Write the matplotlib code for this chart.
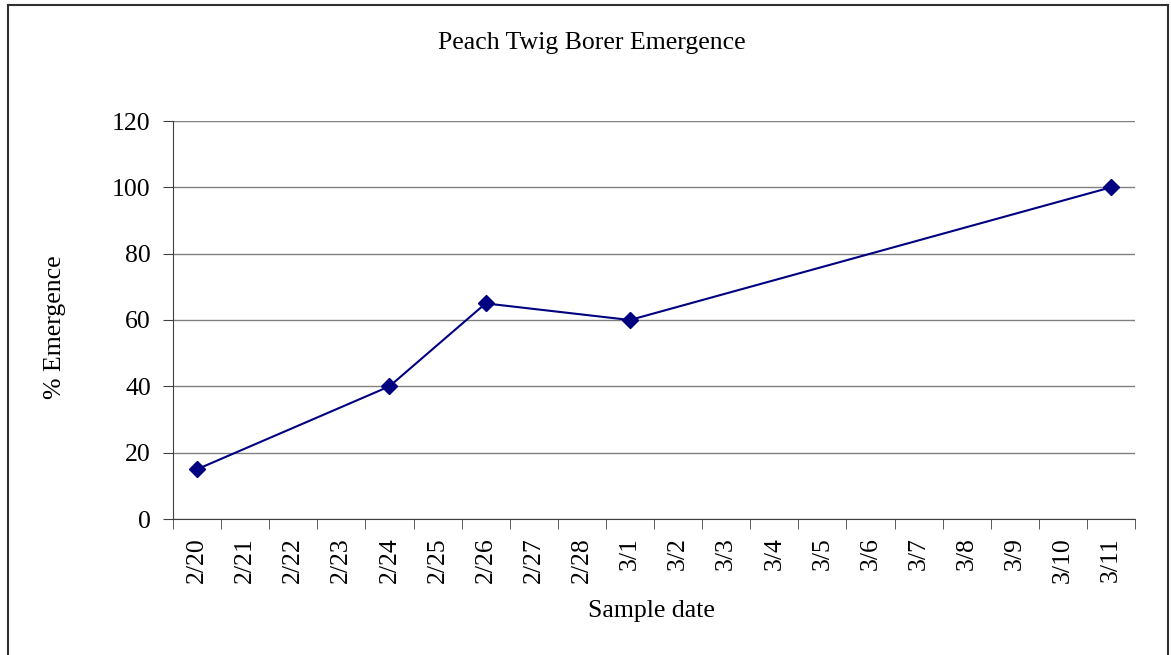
import numpy as np
import matplotlib.pyplot as plt
from matplotlib.lines import Line2D

plt.rcParams['font.family'] = ['Liberation Serif', 'DejaVu Serif']

# category axis: every day from 2/20 to 3/11
dates = ["2/20", "2/21", "2/22", "2/23", "2/24", "2/25", "2/26", "2/27", "2/28", "3/1",
         "3/2", "3/3", "3/4", "3/5", "3/6", "3/7", "3/8", "3/9", "3/10", "3/11"]

# sampled dates and % emergence
sample_dates = ["2/20", "2/24", "2/26", "3/1", "3/11"]
emergence = [15, 40, 65, 60, 100]

FS = 18.5

fig = plt.figure(figsize=(11.71, 6.55), dpi=100)
ax = fig.add_axes([173 / 1171, 1 - 519 / 655, (1135 - 173) / 1171, (519 - 121) / 655])

x = [dates.index(d) for d in sample_dates]
ax.plot(x, emergence, color="#000080", linewidth=1.5, marker="D", markersize=8,
        markerfacecolor="#000080", markeredgecolor="#000080", zorder=3)

ax.set_xlim(-0.5, len(dates) - 0.5)
ax.set_ylim(0, 120)
ax.set_yticks(np.arange(0, 121, 20))
ax.yaxis.grid(True, color="#808080", linewidth=1)
ax.set_axisbelow(True)

ax.set_xticks(range(len(dates)))
ax.set_xticklabels(dates, rotation=90, fontsize=FS)
ax.set_xticks(np.arange(-0.5, len(dates), 1), minor=True)
ax.tick_params(axis="x", which="major", length=0, pad=13)
ax.tick_params(axis="x", which="minor", length=7, color="#404040", direction="out")
ax.tick_params(axis="y", length=7, color="#404040", labelsize=FS, pad=9)

for s in ["top", "right"]:
    ax.spines[s].set_visible(False)
for s in ["left", "bottom"]:
    ax.spines[s].set_color("#404040")

fig.text(592 / 1171, 1 - 43 / 655, "Peach Twig Borer Emergence", ha="center", va="center", fontsize=FS)
fig.text(55 / 1171, 1 - 327 / 655, "% Emergence", ha="center", va="center", rotation=90, fontsize=FS)
fig.text(651 / 1171, 1 - 611 / 655, "Sample date", ha="center", va="center", fontsize=FS)

# chart area border (bottom cut off in the reference)
bx0, bx1, by = 7.5 / 1171, 1167.5 / 1171, 1 - 4.5 / 655
fig.add_artist(Line2D([bx0, bx0], [0, by], color="#303030", linewidth=1.5, transform=fig.transFigure))
fig.add_artist(Line2D([bx0, bx1], [by, by], color="#303030", linewidth=1.5, transform=fig.transFigure))
fig.add_artist(Line2D([bx1, bx1], [0, by], color="#303030", linewidth=1.5, transform=fig.transFigure))

fig.savefig("out.png", dpi=100)
